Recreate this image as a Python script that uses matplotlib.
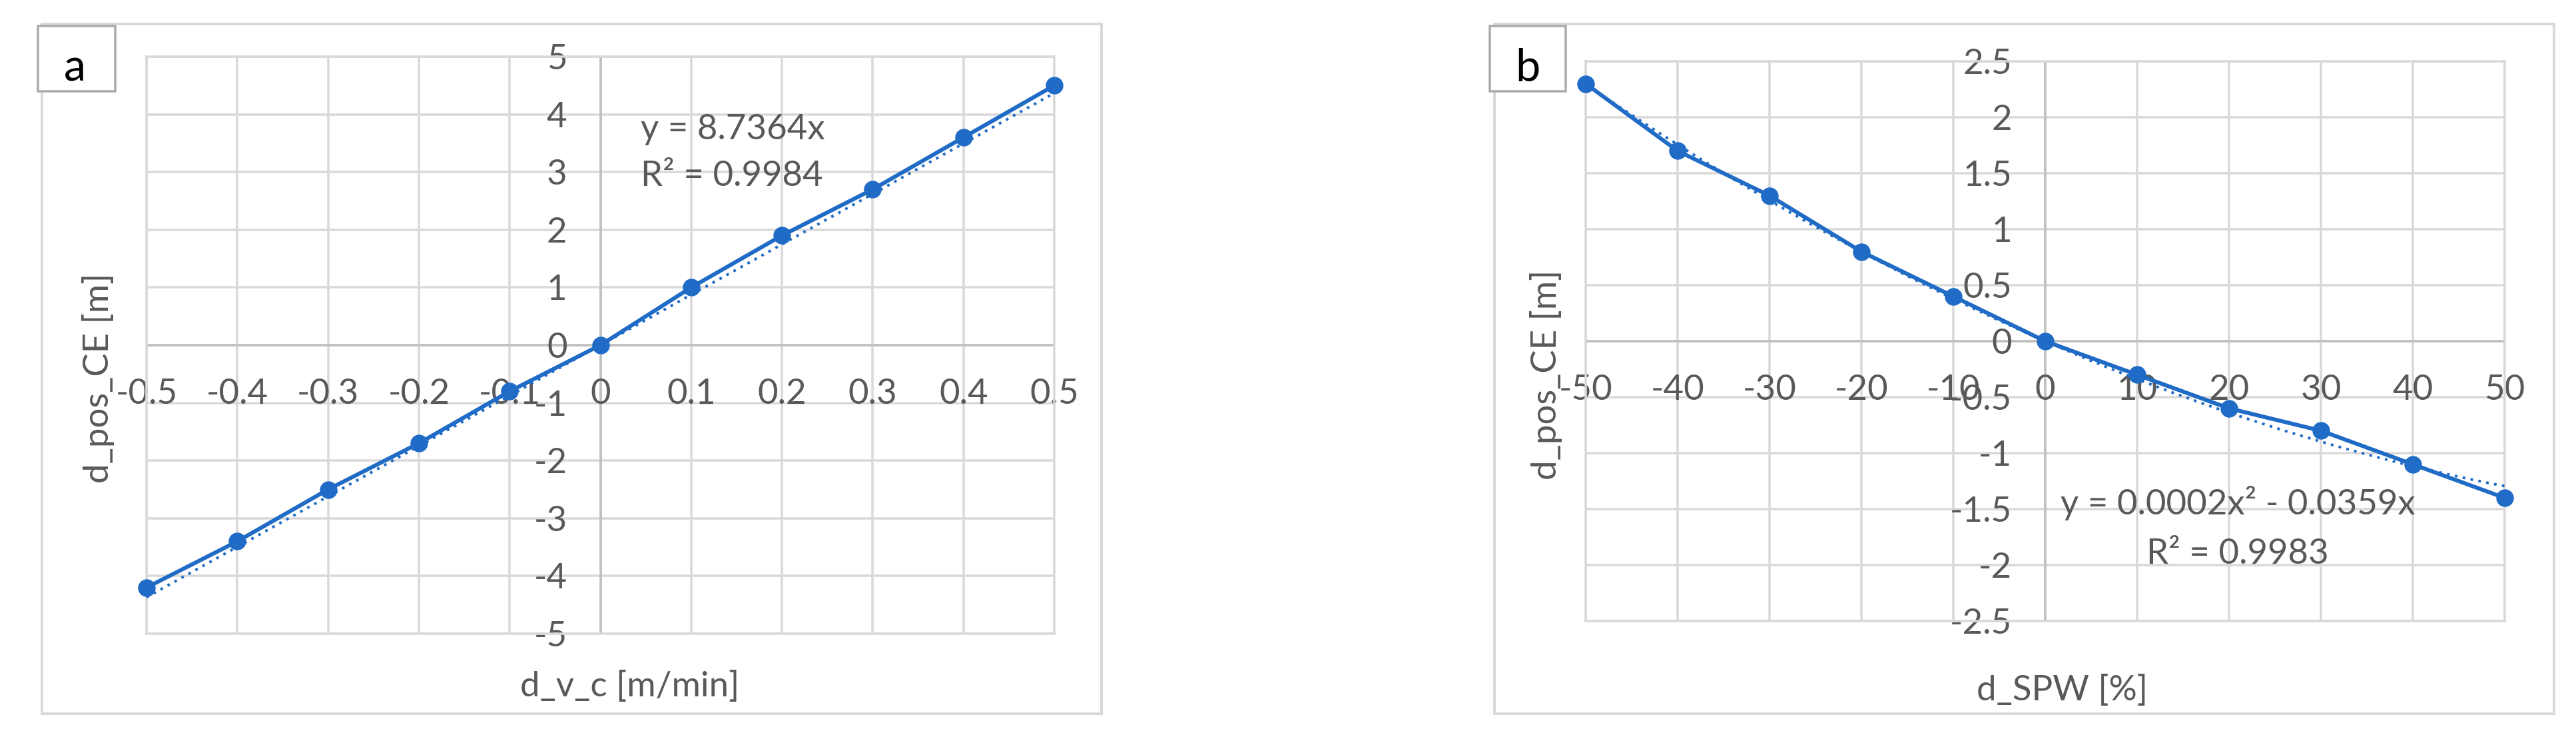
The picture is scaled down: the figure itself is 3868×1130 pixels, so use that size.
import numpy as np
import matplotlib
matplotlib.use("Agg")
import matplotlib.pyplot as plt
from matplotlib.patches import Rectangle

# ---------------- data ----------------
a_x = [-0.5, -0.4, -0.3, -0.2, -0.1, 0.0, 0.1, 0.2, 0.3, 0.4, 0.5]
a_y = [-4.2, -3.4, -2.5, -1.7, -0.8, 0.0, 1.0, 1.9, 2.7, 3.6, 4.5]
a_fit = [8.7364, 0.0]            # y = 8.7364x
a_xticks = [-0.5, -0.4, -0.3, -0.2, -0.1, 0, 0.1, 0.2, 0.3, 0.4, 0.5]
a_xlabels = ["-0.5", "-0.4", "-0.3", "-0.2", "-0.1", "0", "0.1", "0.2", "0.3", "0.4", "0.5"]
a_yticks = [5, 4, 3, 2, 1, 0, -1, -2, -3, -4, -5]
a_ylabels = ["5", "4", "3", "2", "1", "0", "-1", "-2", "-3", "-4", "-5"]

b_x = [-50, -40, -30, -20, -10, 0, 10, 20, 30, 40, 50]
b_y = [2.3, 1.7, 1.3, 0.8, 0.4, 0.0, -0.3, -0.6, -0.8, -1.1, -1.4]
b_fit = [0.0002, -0.0359, 0.0]   # y = 0.0002x^2 - 0.0359x
b_xticks = [-50, -40, -30, -20, -10, 0, 10, 20, 30, 40, 50]
b_xlabels = ["-50", "-40", "-30", "-20", "-10", "0", "10", "20", "30", "40", "50"]
b_yticks = [2.5, 2, 1.5, 1, 0.5, 0, -0.5, -1, -1.5, -2, -2.5]
b_ylabels = ["2.5", "2", "1.5", "1", "0.5", "0", "-0.5", "-1", "-1.5", "-2", "-2.5"]

# ---------------- figure ----------------
W, H = 3868, 1130
DPI = 100
PX = 72.0 / DPI  # points per pixel
fig = plt.figure(figsize=(W / DPI, H / DPI), dpi=DPI)
fig.patch.set_facecolor("white")

FONT = "Lato"
TXT = "#595959"
GRID = "#D9D9D9"
AXL = "#BFBFBF"
BLUE = "#1F6BC6"
FS = 38


def fx(x):
    return x / W


def fy(y):
    return 1 - y / H


def add_axes_px(x0, y0, x1, y1):
    return fig.add_axes([fx(x0), fy(y1), (x1 - x0) / W, (y1 - y0) / H])


def outer_box(x0, y0, x1, y1):
    fig.add_artist(Rectangle((fx(x0), fy(y1)), (x1 - x0) / W, (y1 - y0) / H,
                             transform=fig.transFigure, fill=False,
                             edgecolor=GRID, linewidth=4 * PX, zorder=0))


def label_box(x0, y0, x1, y1, letter, tx, ty):
    fig.add_artist(Rectangle((fx(x0), fy(y1)), (x1 - x0) / W, (y1 - y0) / H,
                             transform=fig.transFigure, facecolor="white",
                             edgecolor="#ABABAB", linewidth=3.5 * PX, zorder=5))
    fig.text(fx(tx), fy(ty), letter, ha="center", va="baseline",
             fontsize=48, family=FONT, color="black", zorder=6)


def style_axes(ax, xlim, ylim, xticks, xlabels, yticks, ylabels):
    ax.set_xlim(*xlim)
    ax.set_ylim(*ylim)
    ax.set_xticks(xticks)
    ax.set_yticks(yticks)
    ax.tick_params(length=0, labelbottom=False, labelleft=False)
    ax.grid(True, color=GRID, linewidth=3.5 * PX, zorder=0)
    ax.set_axisbelow(True)
    for s in ax.spines.values():
        s.set_color(GRID)
        s.set_linewidth(3.5 * PX)
    ax.axhline(0, color=AXL, linewidth=3.5 * PX, zorder=1)
    ax.axvline(0, color=AXL, linewidth=3.5 * PX, zorder=1)
    for xv, lab in zip(xticks, xlabels):
        ax.annotate(lab, xy=(xv, 0), xytext=(0, -88 * PX), textcoords="offset points",
                    ha="center", va="baseline", fontsize=FS, family=FONT, color=TXT,
                    annotation_clip=False, zorder=2)
    for yv, lab in zip(yticks, ylabels):
        ax.annotate(lab, xy=(0, yv), xytext=(-50 * PX, -19 * PX), textcoords="offset points",
                    ha="right", va="baseline", fontsize=FS, family=FONT, color=TXT,
                    annotation_clip=False, zorder=2)


# ---------------- panel a ----------------
outer_box(63, 36, 1654, 1071)
axa = add_axes_px(220, 85, 1583, 951)
style_axes(axa, (-0.5, 0.5), (-5, 5), a_xticks, a_xlabels, a_yticks, a_ylabels)
xa = np.array(a_x)
axa.plot(xa, np.polyval(a_fit, xa), linestyle=(0, (1, 2.0)), color=BLUE,
         linewidth=4 * PX, zorder=3, clip_on=False)
axa.plot(a_x, a_y, color=BLUE, linewidth=6 * PX, marker="o", markersize=25 * PX,
         zorder=4, clip_on=False)
fig.text(fx(946), fy(1030), "d_v_c [m/min]", ha="center", va="center",
         fontsize=FS, family=FONT, color=TXT)
fig.text(fx(147), fy(567), "d_pos_CE [m]", ha="center", va="center", rotation=90,
         fontsize=FS, family=FONT, color=TXT)
fig.text(fx(962), fy(209), "y = 8.7364x", ha="left", va="baseline",
         fontsize=FS, family=FONT, color=TXT)
fig.text(fx(962), fy(279), "R\u00b2 = 0.9984", ha="left", va="baseline",
         fontsize=FS, family=FONT, color=TXT)
label_box(57, 39, 173, 137, "a", 112, 122)

# ---------------- panel b ----------------
outer_box(2244, 36, 3835, 1071)
axb = add_axes_px(2381, 92, 3761, 932)
style_axes(axb, (-50, 50), (-2.5, 2.5), b_xticks, b_xlabels, b_yticks, b_ylabels)
xb = np.linspace(b_x[0], b_x[-1], 201)
axb.plot(xb, np.polyval(b_fit, xb), linestyle=(0, (1, 2.0)), color=BLUE,
         linewidth=4 * PX, zorder=3, clip_on=False)
axb.plot(b_x, b_y, color=BLUE, linewidth=6 * PX, marker="o", markersize=25 * PX,
         zorder=4, clip_on=False)
fig.text(fx(3096), fy(1036), "d_SPW [%]", ha="center", va="center",
         fontsize=FS, family=FONT, color=TXT)
fig.text(fx(2322), fy(562), "d_pos_CE [m]", ha="center", va="center", rotation=90,
         fontsize=FS, family=FONT, color=TXT)
fig.text(fx(3360), fy(772), "y = 0.0002x\u00b2 - 0.0359x", ha="center", va="baseline",
         fontsize=FS, family=FONT, color=TXT)
fig.text(fx(3360), fy(846), "R\u00b2 = 0.9983", ha="center", va="baseline",
         fontsize=FS, family=FONT, color=TXT)
label_box(2237, 39, 2351, 137, "b", 2294, 122)

fig.savefig("out.png", dpi=DPI, facecolor="white")
